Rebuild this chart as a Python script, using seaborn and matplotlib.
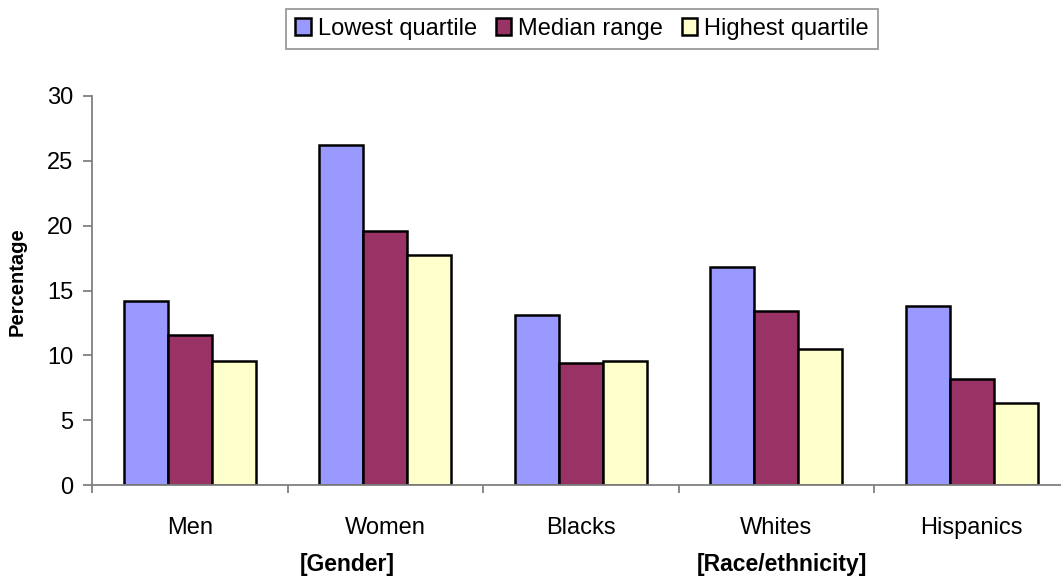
import matplotlib
matplotlib.use("Agg")
import matplotlib.pyplot as plt
from matplotlib.patches import Patch
from matplotlib.ticker import FixedLocator
import seaborn as sns
import pandas as pd

# Chart data
groups = ["Men", "Women", "Blacks", "Whites", "Hispanics"]
series = ["Lowest quartile", "Median range", "Highest quartile"]
lowest_quartile = [14.2, 26.2, 13.1, 16.8, 13.8]
median_range = [11.6, 19.6, 9.4, 13.4, 8.2]
highest_quartile = [9.6, 17.7, 9.6, 10.5, 6.3]
colors = ["#9999FF", "#993366", "#FFFFCC"]
y_ticks = [0, 5, 10, 15, 20, 25, 30]

df = pd.DataFrame({
    "group": groups * 3,
    "series": [series[0]] * 5 + [series[1]] * 5 + [series[2]] * 5,
    "value": lowest_quartile + median_range + highest_quartile,
})

sns.set_style("white")
plt.rcParams["font.family"] = ["Liberation Sans", "DejaVu Sans"]
plt.rcParams["text.color"] = "black"
plt.rcParams["axes.labelcolor"] = "black"

W, H = 1061, 577
fig = plt.figure(figsize=(W / 100, H / 100), dpi=100)
ax = fig.add_axes([92 / W, 1 - 485 / H, 977.5 / W, 389 / H])

sns.barplot(
    data=df, x="group", y="value", hue="series", order=groups,
    hue_order=series, palette=colors, width=0.675, errorbar=None,
    edgecolor="black", linewidth=1.8, saturation=1, ax=ax,
)
ax.get_legend().remove()

ax.set_xlim(-0.5, 4.5)
ax.set_ylim(0, 30)
ax.set_yticks(y_ticks)
ax.set_xlabel("")
ax.set_ylabel("")

for side in ["top", "right"]:
    ax.spines[side].set_visible(False)
for side in ["left", "bottom"]:
    ax.spines[side].set_color("#808080")
    ax.spines[side].set_linewidth(1.3)
    ax.spines[side].set_clip_on(False)

ax.tick_params(axis="y", which="major", direction="out", length=6.5, width=1.3,
               color="#808080", labelcolor="black", labelsize=17, pad=7,
               left=True)
ax.tick_params(axis="x", which="major", length=0, labelsize=17,
               labelcolor="black", pad=23)
ax.xaxis.set_minor_locator(FixedLocator([-0.5, 0.5, 1.5, 2.5, 3.5, 4.5]))
ax.tick_params(axis="x", which="minor", direction="out", length=6, width=1.3,
               color="#808080", bottom=True)

fig.text(17 / W, 1 - 282 / H, "Percentage", rotation=90, fontsize=14.5,
         fontweight="bold", ha="center", va="center")
fig.text(347 / W, 1 - 565 / H, "[Gender]", fontsize=16.5, fontweight="bold",
         ha="center", va="center")
fig.text(782 / W, 1 - 565 / H, "[Race/ethnicity]", fontsize=16.5,
         fontweight="bold", ha="center", va="center")

handles = [Patch(facecolor=c, edgecolor="black", linewidth=1.8) for c in colors]
leg = fig.legend(
    handles, series, loc="center", bbox_to_anchor=(582 / W, 1 - 29 / H),
    ncol=3, fontsize=17, frameon=True, fancybox=False, shadow=False,
    edgecolor="#808080", handlelength=0.65, handleheight=0.7,
    handletextpad=0.3, columnspacing=0.8, borderpad=0.4, borderaxespad=0,
)
leg.get_frame().set_linewidth(1.3)

fig.savefig("out.png", dpi=100, facecolor="white")
